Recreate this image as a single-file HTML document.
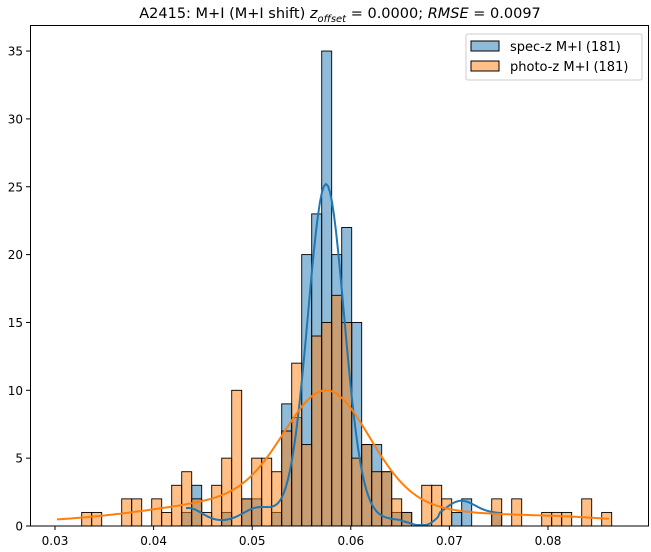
<!DOCTYPE html><html><head><style>body{margin:0;background:#fff}svg{display:block}text{font-family:"DejaVu Sans","Liberation Sans",sans-serif;fill:#000}</style></head><body>
<svg id="s" width="651" height="552" xmlns="http://www.w3.org/2000/svg">
<text x="340" y="18" font-size="14.5" text-anchor="middle">A2415: M+I (M+I shift) <tspan font-style="italic">z</tspan><tspan font-style="italic" font-size="10" dy="4">offset</tspan><tspan dy="-4"> = 0.0000; </tspan><tspan font-style="italic">RMSE</tspan> = 0.0097</text>
<g id="bars"></g>
<g id="lines"></g>
<rect x="30.5" y="25.5" width="618" height="500.5" fill="none" stroke="#000" stroke-width="1"/>
<g id="ticks" font-size="12"></g>
<rect x="466" y="34" width="176" height="46" rx="2" fill="#fff" fill-opacity="0.8" stroke="#ccc"/>
<rect x="471" y="41" width="28" height="10" fill="#1f77b4" fill-opacity="0.5" stroke="#000"/>
<rect x="471" y="61" width="28" height="10" fill="#ff7f0e" fill-opacity="0.5" stroke="#000"/>
<text x="510" y="51" font-size="13">spec-z M+I (181)</text>
<text x="510" y="71" font-size="13">photo-z M+I (181)</text>
</svg>
<script>
var NS="http://www.w3.org/2000/svg",s=document.getElementById('s');
function el(p,t,a){var e=document.createElementNS(NS,t);for(var k in a)e.setAttribute(k,a[k]);document.getElementById(p).appendChild(e);return e;}
var u=13.57,b0=526;
var bl={10:1,11:3,14:1,16:2,17:2,19:1,20:9,21:8,22:20,23:23,24:35,25:20,26:22,27:15,28:6,29:6,30:4,31:1,32:1,37:1,38:2,41:1};
var or={0:1,1:1,4:2,5:2,7:2,8:1,9:3,10:4,11:2,12:1,13:3,14:5,15:10,16:2,17:5,18:5,19:4,20:7,21:12,22:6,23:14,24:15,25:17,26:15,27:5,28:6,29:4,30:4,31:2,32:1,34:3,35:3,36:2,41:2,43:2,46:1,47:1,48:1,50:2,52:1};
function draw(d,c){for(var k in d){var x=81.7+10*k,h=d[k]*u;el('bars','rect',{x:x,y:b0-h,width:10,height:h,fill:c,'fill-opacity':0.5,stroke:'#000','stroke-width':0.9});}}
draw(bl,'#1f77b4');draw(or,'#ff7f0e');
function g(x,m,s){return Math.exp(-0.5*Math.pow((x-m)/s,2));}
var p1=[],p2=[];
for(var x=186;x<=500;x+=2){var y=330*g(x,326,18)+8*g(x,326,45)+14*g(x,188,14)+12*g(x,258,15)+20*g(x,460,16)+8*g(x,500,20)+4;if(x>400&&x<440)y=Math.max(1,y-6*g(x,425,12));p1.push(x+','+(b0-y).toFixed(1));}
for(var x=57;x<=610;x+=3){var y=106*g(x,327,42)+24*g(x,290,110)+7*g(x,330,260)+4*g(x,560,60);p2.push(x+','+(b0-y).toFixed(1));}
el('lines','polyline',{points:p1.join(' '),fill:'none',stroke:'#1f77b4','stroke-width':2});
el('lines','polyline',{points:p2.join(' '),fill:'none',stroke:'#ff7f0e','stroke-width':2});
for(var i=0;i<=7;i++){var y=b0-i*5*u;el('ticks','line',{x1:26,x2:30,y1:y,y2:y,stroke:'#000'});var t=el('ticks','text',{x:23,y:y+4.5,'text-anchor':'end'});t.textContent=i*5;}
var xl=['0.03','0.04','0.05','0.06','0.07','0.08'];
for(var i=0;i<6;i++){var x=55+98.6*i;el('ticks','line',{x1:x,x2:x,y1:526,y2:530,stroke:'#000'});var t=el('ticks','text',{x:x,y:545,'text-anchor':'middle'});t.textContent=xl[i];}
</script>
</body></html>
